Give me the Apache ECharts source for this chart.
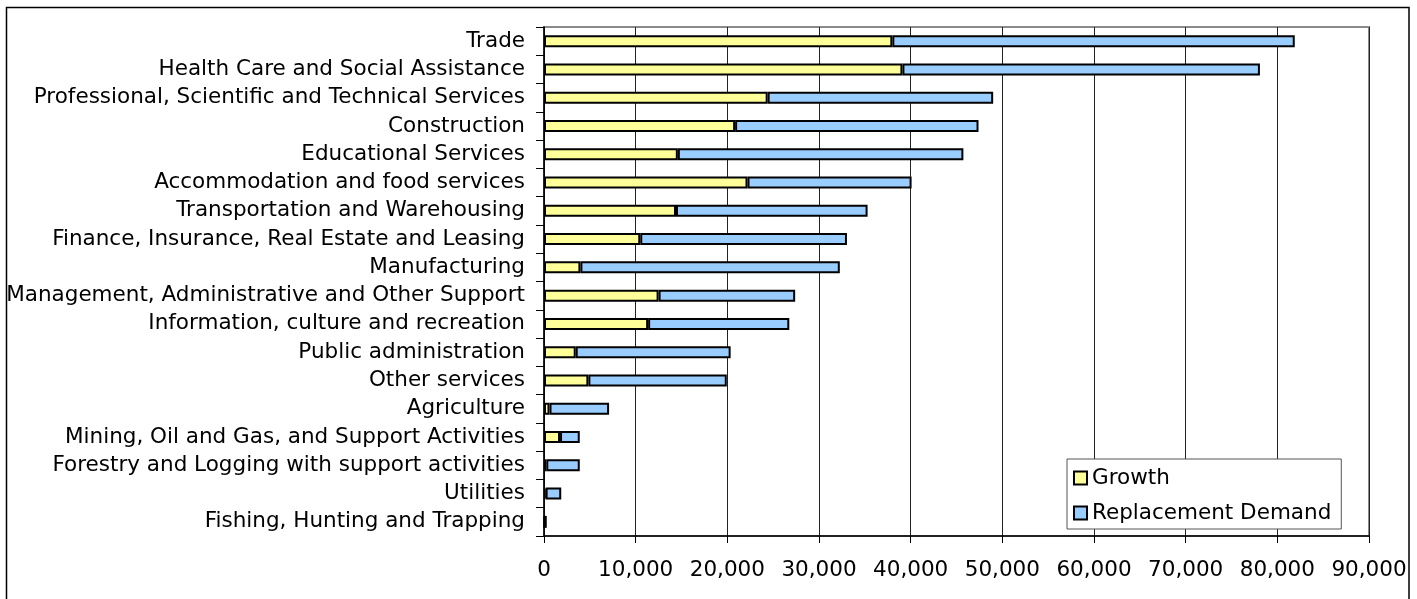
<!DOCTYPE html>
<html>
<head>
<meta charset="utf-8">
<script src="https://cdn.jsdelivr.net/npm/echarts@6/dist/echarts.min.js"></script>
<style>
html,body{margin:0;padding:0;background:#fff;}
#chart{width:1417px;height:599px;}
</style>
</head>
<body>
<div id="chart"></div>
<script>
const categories = [
  "Trade",
  "Health Care and Social Assistance",
  "Professional, Scientific and Technical Services",
  "Construction",
  "Educational Services",
  "Accommodation and food services",
  "Transportation and Warehousing",
  "Finance, Insurance, Real Estate and Leasing",
  "Manufacturing",
  "Management, Administrative and Other Support",
  "Information, culture and recreation",
  "Public administration",
  "Other services",
  "Agriculture",
  "Mining, Oil and Gas, and Support Activities",
  "Forestry and Logging with support activities",
  "Utilities",
  "Fishing, Hunting and Trapping"
];
const growth = [38000, 39100, 24400, 20850, 14600, 22200, 14400, 10500, 3970, 12500, 11360, 3460, 4840, 600, 1750, 250, 180, 50];
const replacement = [43900, 39000, 24600, 26550, 31150, 17900, 20900, 22550, 28300, 14900, 15400, 16900, 15100, 6500, 2150, 3650, 1700, 250];
const seriesNames = ["Growth", "Replacement Demand"];

const FONT = "DejaVu Sans, Verdana, sans-serif";
const FS = 21.5;
const chart = echarts.init(document.getElementById('chart'), null, {renderer: 'canvas'});
chart.setOption({
  backgroundColor: '#fff',
  animation: false,
  grid: {left: 544, right: 48, top: 27, bottom: 63, show: true, borderColor: '#8a8a8a', borderWidth: 2, backgroundColor: 'transparent'},
  legend: {
    orient: 'vertical', left: 1067, top: 459,
    data: seriesNames,
    backgroundColor: '#fff', borderColor: '#555', borderWidth: 1,
    padding: [8, 10, 5, 6], itemGap: 13, itemWidth: 13, itemHeight: 13,
    icon: 'rect',
    textStyle: {fontFamily: FONT, fontSize: FS, color: '#000'}
  },
  xAxis: {
    type: 'value', min: 0, max: 90000, interval: 10000,
    axisLine: {show: true, lineStyle: {color: '#000', width: 1.5}},
    axisTick: {show: true, length: 7, lineStyle: {color: '#000', width: 1}},
    splitLine: {show: true, lineStyle: {color: '#222', width: 1}},
    axisLabel: {fontFamily: FONT, fontSize: FS, color: '#000', margin: 23,
      formatter: v => v.toLocaleString('en-US')}
  },
  yAxis: {
    type: 'category', data: categories, inverse: true,
    axisLine: {show: true, lineStyle: {color: '#000', width: 1.5}},
    axisTick: {show: true, length: 8, lineStyle: {color: '#000', width: 1}},
    axisLabel: {fontFamily: FONT, fontSize: FS, color: '#000', margin: 19, interval: 0},
    splitLine: {show: false}
  },
  series: [
    {name: seriesNames[0], type: 'bar', stack: 'total', data: growth, barWidth: 12,
      itemStyle: {color: '#FFFF99', borderColor: '#000', borderWidth: 2}},
    {name: seriesNames[1], type: 'bar', stack: 'total', data: replacement, barWidth: 12,
      itemStyle: {color: '#99CCFF', borderColor: '#000', borderWidth: 2}}
  ],
  graphic: [{
    type: 'rect', z: 100, silent: true,
    shape: {x: 6.5, y: 7.5, width: 1402.5, height: 620},
    style: {fill: 'none', stroke: '#000', lineWidth: 1.5}
  }]
});
</script>
</body>
</html>
